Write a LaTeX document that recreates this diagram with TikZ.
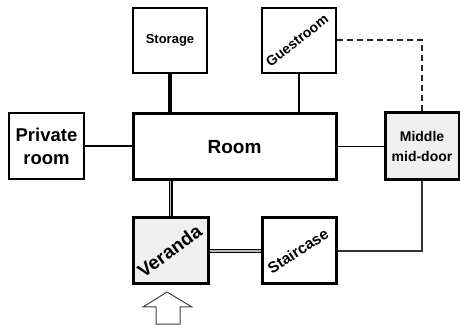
\documentclass[tikz,border=0pt]{standalone}
\usepackage{graphicx}
\usepackage{fontspec}
\setmainfont{Liberation Sans}
\begin{document}
\begin{tikzpicture}[x=1pt,y=-1pt,
  thinbox/.style={draw=black,line width=1.2pt,fill=white,rectangle,inner sep=0pt,align=center,font=\bfseries},
  thickbox/.style={draw=black,line width=3pt,rectangle,inner sep=0pt,align=center,font=\bfseries},
  grayfill/.style={fill=gray!12},
  dbl/.style={line width=1.4pt,double=gray!55,double distance=1.2pt,draw=black}]
\useasboundingbox (0,0) rectangle (460,328);
% boxes
\node[thinbox,minimum width=74pt,minimum height=65pt,font=\bfseries\fontsize{13}{15}\selectfont] (storage) at (170,40.5) {Storage};
\node[thinbox,minimum width=74pt,minimum height=65pt,font=\bfseries\fontsize{14}{16}\selectfont] (guest) at (299,40.5) {\hspace*{-4pt}\raisebox{-5pt}{\rotatebox{38}{Guestroom}}};
\node[thinbox,minimum width=75pt,minimum height=66pt,font=\bfseries\fontsize{18.5}{23}\selectfont] (private) at (46.5,146) {Private\\room};
\node[thickbox,fill=white,minimum width=203pt,minimum height=66pt,font=\bfseries\fontsize{19}{22}\selectfont] (room) at (234.5,147) {Room};
\node[thickbox,grayfill,minimum width=74pt,minimum height=67pt,font=\bfseries\fontsize{14}{20}\selectfont] (middle) at (422,146.5) {Middle\\mid-door};
\node[thickbox,grayfill,minimum width=75pt,minimum height=66pt,font=\bfseries\fontsize{19}{22}\selectfont] (veranda) at (170.5,251) {\hspace*{-2pt}\rotatebox{36}{Veranda}};
\node[thickbox,fill=white,minimum width=74pt,minimum height=66pt,font=\bfseries\fontsize{15.5}{18}\selectfont] (stair) at (299,251) {\hspace*{-2pt}\rotatebox{33}{Staircase}};
% connectors
\draw[line width=3.5pt] (storage.south) -- (storage.south |- room.north);
\draw[line width=2pt] (guest.south) -- (guest.south |- room.north);
\draw[line width=1.5pt] (private.east) -- (private.east -| room.west);
\draw[line width=1.5pt] (room.east |- middle.west) -- (middle.west);
\draw[line width=1.8pt,dash pattern=on 6pt off 4pt,black!85] (guest.east |- 0,40) -| (middle.north);
\draw[line width=1.5pt,black!80] (middle.south) |- (stair.east);
\draw[dbl] (veranda.north) -- (veranda.north |- room.south);
\draw[dbl] (veranda.east) -- (stair.west);
% entrance arrow
\coordinate (tip) at (167,292);
\draw[line width=1pt,black!75,fill=white] (tip) -- (192,307) -- (180,307) -- (180,324) -- (156,324) -- (156,307) -- (143,307) -- cycle;
\end{tikzpicture}
\end{document}
